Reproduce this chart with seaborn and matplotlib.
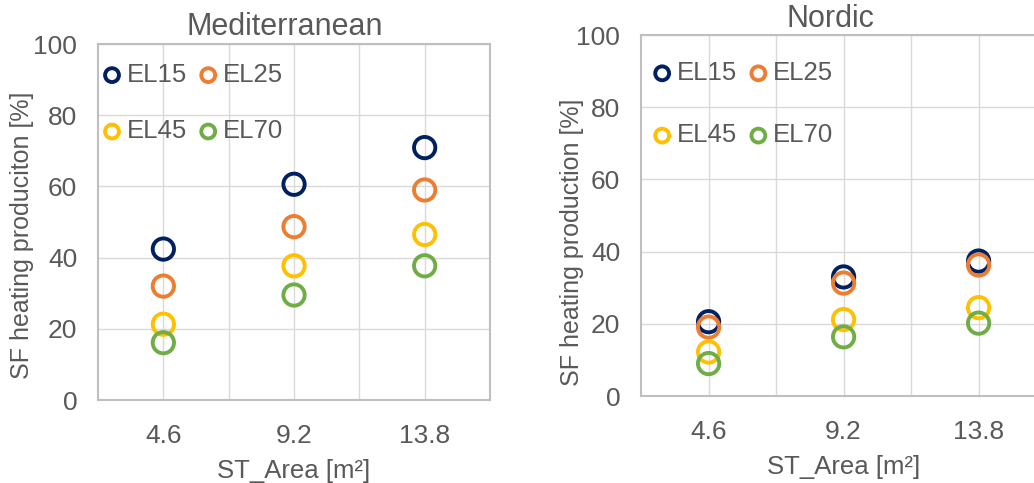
import numpy as np
import pandas as pd
import matplotlib
matplotlib.use("Agg")
import matplotlib.pyplot as plt
import seaborn as sns

# %%
# values
areas = ["4.6", "9.2", "13.8"]
series = ["EL15", "EL25", "EL45", "EL70"]
colors = ["#002060", "#ED7D31", "#FFC000", "#70AD47"]

med_el15 = [42.4, 60.6, 70.9]
med_el25 = [32.0, 48.7, 59.0]
med_el45 = [21.3, 37.7, 46.5]
med_el70 = [16.1, 29.5, 37.7]

nor_el15 = [20.6, 33.0, 37.4]
nor_el25 = [19.1, 31.3, 36.3]
nor_el45 = [12.2, 21.2, 24.5]
nor_el70 = [9.0, 16.4, 20.2]

panels = [
    ("Mediterranean", "SF heating produciton [%]", [med_el15, med_el25, med_el45, med_el70]),
    ("Nordic", "SF heating production [%]", [nor_el15, nor_el25, nor_el45, nor_el70]),
]

# %%
sns.set_theme(style="white")
plt.rcParams["font.family"] = ["Liberation Sans", "DejaVu Sans"]
txt = "#595959"

fig = plt.figure(figsize=(10.34, 4.83), dpi=100)
axes = [
    fig.add_axes([0.0948, 0.1718, 0.3791, 0.7371]),
    fig.add_axes([0.6200, 0.1800, 0.3917, 0.7474]),
]
title_pos = [(0.477, 1.024), (0.467, 1.0235)]
leg_anchor = [(0.016, 0.947), (0.033, 0.928)]
leg_space = [1.26, 1.49]
ylab_xy = [(-0.194, 0.463), (-0.170, 0.427)]

for ax, (title, ylabel, vals), tp, anc, ls, yl in zip(axes, panels, title_pos, leg_anchor, leg_space, ylab_xy):
    df = pd.DataFrame({"area": areas * len(series),
                       "sf": np.concatenate(vals),
                       "case": np.repeat(series, len(areas))})
    for name, col in zip(series, colors):
        sub = df[df["case"] == name]
        sns.scatterplot(x="area", y="sf", data=sub, ax=ax, color=col,
                        facecolor="none", edgecolor=col, linewidth=2.8,
                        s=235, label=name, zorder=3)

    ax.set_xlim(-0.5, 2.5)
    ax.set_ylim(0, 100)
    ax.set_yticks(range(0, 101, 20))
    ax.set_xticks([0, 1, 2])
    ax.set_xticks([0.5, 1.5], minor=True)
    ax.grid(True, which="both", color="#D9D9D9", linewidth=1.0)
    ax.set_axisbelow(True)
    for sp in ax.spines.values():
        sp.set_color("#BFBFBF")
        sp.set_linewidth(1.5)
    ax.tick_params(axis="both", which="both", length=0, labelsize=19,
                   labelcolor=txt)
    ax.tick_params(axis="x", pad=17)
    ax.tick_params(axis="y", pad=15)
    ax.set_xlabel("ST_Area [m²]", fontsize=18.5, color=txt, labelpad=8)
    ax.set_ylabel(ylabel, fontsize=18, color=txt)
    ax.yaxis.label.set_va("center")
    ax.yaxis.set_label_coords(*yl)
    ax.text(tp[0], tp[1], title, transform=ax.transAxes, ha="center",
            va="baseline", fontsize=22, color=txt)

    h, l = ax.get_legend_handles_labels()
    order = [0, 2, 1, 3]
    leg = ax.legend([h[i] for i in order], [l[i] for i in order], ncol=2,
                    loc="upper left", bbox_to_anchor=anc, frameon=False,
                    fontsize=18.5, markerscale=0.65, handlelength=0.6,
                    handletextpad=0.28, columnspacing=0.52, labelspacing=ls,
                    borderaxespad=0, borderpad=0)
    for t in leg.get_texts():
        t.set_color(txt)

fig.savefig("out.png", dpi=100)
